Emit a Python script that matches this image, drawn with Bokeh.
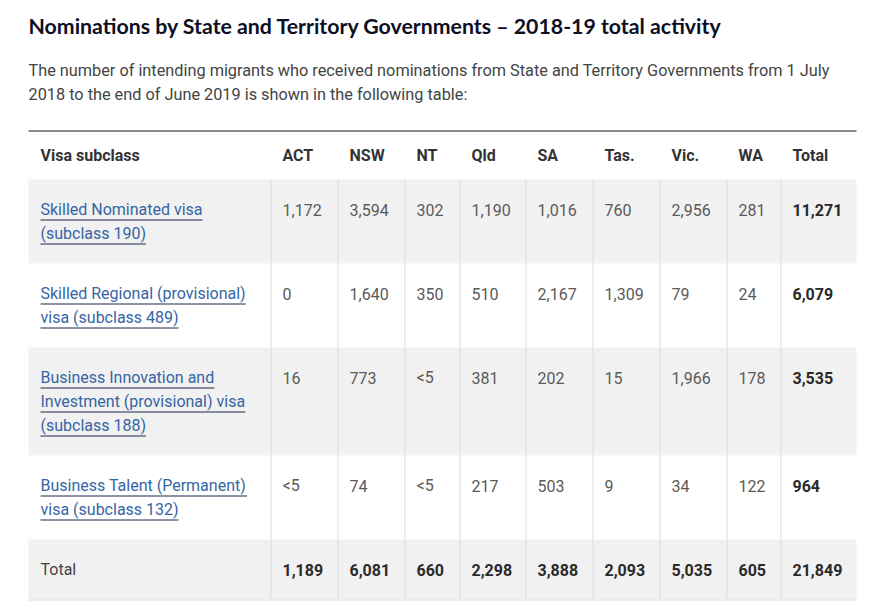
from bokeh.plotting import figure
from bokeh.models import Range1d
from bokeh.core.properties import value
from bokeh.embed import file_html
from bokeh.resources import INLINE

# ---------------- data ----------------
title = "Nominations by State and Territory Governments \u2013 2018-19 total activity"
intro = ["The number of intending migrants who received nominations from State and Territory Governments from 1 July",
         "2018 to the end of June 2019 is shown in the following table:"]
first_header = "Visa subclass"
states = ["ACT", "NSW", "NT", "Qld", "SA", "Tas.", "Vic.", "WA"]
total_header = "Total"
visa_names = [
    ["Skilled Nominated visa", "(subclass 190)"],
    ["Skilled Regional (provisional)", "visa (subclass 489)"],
    ["Business Innovation and", "Investment (provisional) visa", "(subclass 188)"],
    ["Business Talent (Permanent)", "visa (subclass 132)"],
]
act = [1172, 0, 16, "<5"]
nsw = [3594, 1640, 773, 74]
nt = [302, 350, "<5", "<5"]
qld = [1190, 510, 381, 217]
sa = [1016, 2167, 202, 503]
tas = [760, 1309, 15, 9]
vic = [2956, 79, 1966, 34]
wa = [281, 24, 178, 122]
row_totals = [11271, 6079, 3535, 964]
total_label = "Total"
state_totals = [1189, 6081, 660, 2298, 3888, 2093, 5035, 605]
grand_total = 21849

state_cols = [act, nsw, nt, qld, sa, tas, vic, wa]

def fmt(v):
    return v if isinstance(v, str) else f"{v:,}"

# ---------------- layout ----------------
W, H = 860, 602
col_left = [28, 270, 337, 404, 459, 525, 592, 659, 726, 780]
table_right = 856
pad = 12
header_top = 131
body_top = 179
line_h = 24

BODY = value("Roboto")

p = figure(width=W, height=H, x_range=Range1d(0, W), y_range=Range1d(H, 0),
           output_backend="svg", toolbar_location=None, min_border=0,
           x_axis_location=None, y_axis_location=None)
p.grid.visible = False
p.outline_line_color = None
p.background_fill_color = "white"
p.border_fill_color = "white"

# character width table (Roboto, em units) for underline lengths
CW = {' ': .248, '(': .341, ')': .348, 'a': .544, 'b': .561, 'c': .523, 'd': .564, 'e': .530, 'f': .347,
      'g': .561, 'h': .551, 'i': .243, 'j': .239, 'k': .507, 'l': .243, 'm': .876, 'n': .552, 'o': .570,
      'p': .561, 'q': .568, 'r': .338, 's': .516, 't': .327, 'u': .551, 'v': .484, 'w': .751, 'x': .496,
      'y': .473, 'z': .496, 'B': .622, 'I': .272, 'S': .593, 'R': .616, 'T': .599, 'P': .631, 'N': .713}
def text_w(s, size=16):
    return sum(CW.get(c, .561) for c in s) * size

# row geometry
n_lines = [len(v) for v in visa_names] + [1]
row_tops = []
y = body_top
for n in n_lines:
    row_tops.append(y)
    y += 36 + line_h * n
table_bottom = y

# grey striped rows
grey = [i for i in range(len(n_lines)) if i % 2 == 0]
p.quad(left=[col_left[0]] * len(grey), right=[table_right] * len(grey),
       top=[row_tops[i] for i in grey], bottom=[row_tops[i] + 36 + line_h * n_lines[i] for i in grey],
       fill_color="#f1f1f1", line_color=None)

# vertical column separators
p.segment(x0=[c + 0.5 for c in col_left[1:]], y0=[body_top] * 9,
          x1=[c + 0.5 for c in col_left[1:]], y1=[table_bottom] * 9,
          line_color="#dcdcdc", line_width=1)
# top rule and bottom rule
p.segment(x0=[col_left[0]], y0=[header_top - 0.5], x1=[table_right], y1=[header_top - 0.5],
          line_color="#111111", line_width=1)
p.segment(x0=[col_left[0]], y0=[table_bottom + 0.5], x1=[table_right], y1=[table_bottom + 0.5],
          line_color="#dcdcdc", line_width=1)

# title and intro
p.text(x=[28], y=[25], text=[title], text_font=value("Lato"), text_font_style="bold",
       text_font_size="21.3px", text_color="#0d0e24", text_baseline="middle")
p.text(x=[28] * 2, y=[70, 94], text=intro, text_font=BODY, text_font_size="16.3px",
       text_color="#444444", text_baseline="middle")

# header
hx = [col_left[0] + pad] + [c + pad for c in col_left[1:]]
htxt = [first_header] + states + [total_header]
p.text(x=hx, y=[155] * len(hx), text=htxt, text_font=BODY, text_font_style="bold", text_font_size="16px",
       text_color="#333333", text_baseline="middle")

# body: visa names (links) with underline
lx, ly, lt, ux0, ux1, uy = [], [], [], [], [], []
for r, lines in enumerate(visa_names):
    for k, s in enumerate(lines):
        yy = row_tops[r] + 30 + line_h * k
        lx.append(col_left[0] + pad); ly.append(yy); lt.append(s)
        ux0.append(col_left[0] + pad); ux1.append(col_left[0] + pad + text_w(s)); uy.append(yy + 10.5)
p.text(x=lx, y=ly, text=lt, text_font=BODY, text_font_size="16px", text_color="#3565a3",
       text_baseline="middle")
p.segment(x0=ux0, y0=uy, x1=ux1, y1=uy, line_color="#1b2a48", line_width=1)

# body numbers
nx, ny, nt_ = [], [], []
for j, col in enumerate(state_cols):
    for r, v in enumerate(col):
        nx.append(col_left[j + 1] + pad); ny.append(row_tops[r] + 30); nt_.append(fmt(v))
p.text(x=nx, y=ny, text=nt_, text_font=BODY, text_font_size="16px", text_color="#5a5a5a",
       text_baseline="middle")
p.text(x=[col_left[9] + pad] * len(row_totals), y=[row_tops[r] + 30 for r in range(len(row_totals))],
       text=[fmt(v) for v in row_totals], text_font=BODY, text_font_style="bold", text_font_size="16px",
       text_color="#2a2a2a", text_baseline="middle")

# total row
ty = row_tops[-1] + 30
p.text(x=[col_left[0] + pad], y=[ty], text=[total_label], text_font=BODY, text_font_size="16px",
       text_color="#444444", text_baseline="middle")
p.text(x=[c + pad for c in col_left[1:]], y=[ty] * 9, text=[fmt(v) for v in state_totals] + [fmt(grand_total)],
       text_font=BODY, text_font_style="bold", text_font_size="16px", text_color="#2a2a2a",
       text_baseline="middle")

open("out.html", "w").write(file_html(p, INLINE))
